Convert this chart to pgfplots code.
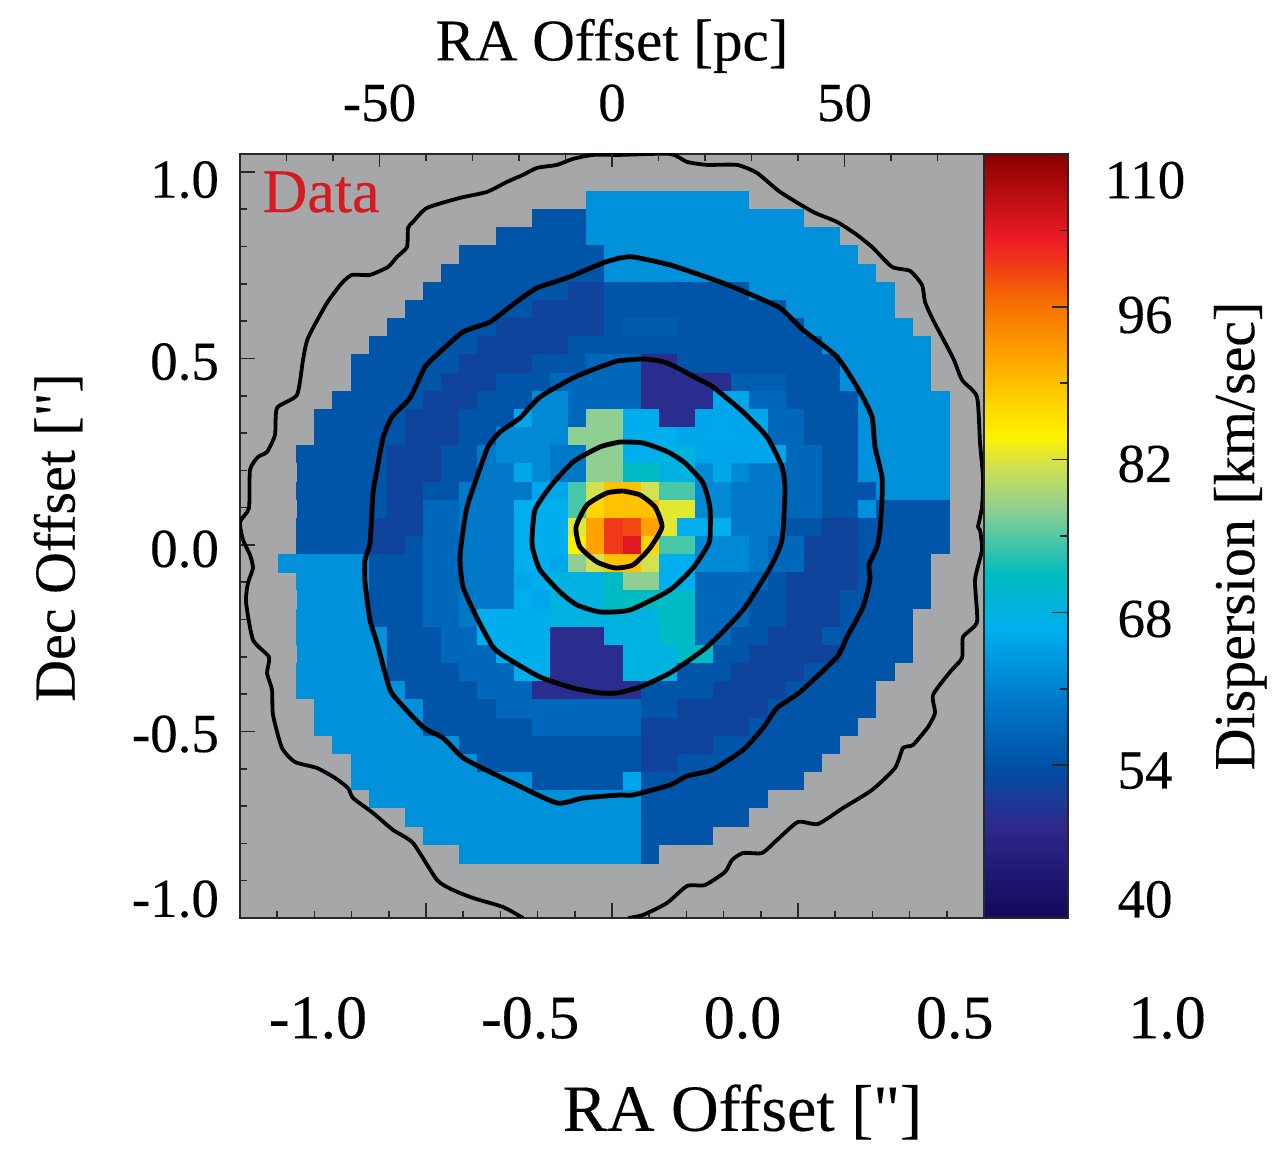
\documentclass[border=0pt]{standalone}
\usepackage{pgfplots}
\usepackage{fontspec}
\setmainfont{Liberation Serif}[FakeBold=0.25]
\newfontfamily\qfont{Liberation Serif}[FakeBold=0.25]
\pgfplotsset{compat=1.18}
\definecolor{mapgray}{RGB}{166,167,169}
\definecolor{datared}{RGB}{214,26,31}
\definecolor{framec}{RGB}{40,40,40}
\pgfplotsset{
 colormap={disp}{rgb255(400pt)=(18,8,92); rgb255(486pt)=(46,42,140); rgb255(538pt)=(0,80,165); rgb255(600pt)=(0,120,200); rgb255(664pt)=(0,174,239); rgb255(715pt)=(0,188,190); rgb255(776pt)=(145,208,145); rgb255(814pt)=(208,224,80); rgb255(842pt)=(255,242,0); rgb255(884pt)=(255,200,0); rgb255(917pt)=(255,160,0); rgb255(963pt)=(245,112,0); rgb255(1020pt)=(238,28,37); rgb255(1100pt)=(139,0,0)},
 colormap={dispgray}{rgb255(400pt)=(18,8,92); rgb255(486pt)=(46,42,140); rgb255(538pt)=(0,80,165); rgb255(600pt)=(0,120,200); rgb255(664pt)=(0,174,239); rgb255(715pt)=(0,188,190); rgb255(776pt)=(145,208,145); rgb255(814pt)=(208,224,80); rgb255(842pt)=(255,242,0); rgb255(884pt)=(255,200,0); rgb255(917pt)=(255,160,0); rgb255(963pt)=(245,112,0); rgb255(1020pt)=(238,28,37); rgb255(1100pt)=(139,0,0); rgb255(1105pt)=(166,167,169); rgb255(1200pt)=(166,167,169)},
 ghost/.style={scale only axis, anchor=south west, axis line style={draw=none}, tick style={draw=none}, major tick length=0pt, clip=false},
 cont/.style={black, line width=2.4pt, line join=round, no markers, forget plot, smooth, tension=0.35},
 table/contxy/.style={row sep=\\, header=false, x expr={(\thisrowno{0}-612)/372}, y expr={(545-\thisrowno{1})/373}},
}
\begin{document}
\begin{tikzpicture}
\path[use as bounding box] (0,0) rectangle (641.5pt,575pt);
% main map
\begin{axis}[scale only axis, at={(120pt,116pt)}, anchor=south west, width=372pt, height=382pt,
 xmin=-1, xmax=1, ymin=-1, ymax=1.048,
 axis background/.style={fill=mapgray},
 axis line style={framec, line width=1pt},
 xtick={-1,-0.5,0,0.5,1}, ytick={-1,-0.5,0,0.5,1}, minor tick num=4,
 xticklabel=\empty, yticklabel=\empty,
 xtick pos=lower, ytick pos=left,
 tick align=inside, major tick length=7.5pt, minor tick length=3.5pt,
 tick style={framec, line width=0.8pt},
 colormap name=dispgray, point meta min=40, point meta max=120]
\addplot[scatter, only marks, scatter src=explicit, mark=square*, mark size=4.45pt, mark options={solid, line width=0.2pt}, scatter/use mapped color={draw=mapped color, fill=mapped color}, forget plot]
 table[row sep=\\, header=false, x expr={-0.8735+0.04875*mod(\coordindex,37)}, y expr={0.9247-0.04869*floor(\coordindex/37)}, meta index=0]{
120\\120\\120\\120\\120\\120\\120\\120\\120\\120\\120\\120\\120\\120\\120\\120\\120\\63\\63\\63\\63\\63\\63\\63\\63\\63\\120\\120\\120\\120\\120\\120\\120\\120\\120\\120\\120\\
120\\120\\120\\120\\120\\120\\120\\120\\120\\120\\120\\120\\120\\120\\54.5\\54.5\\54.5\\63\\63\\63\\63\\63\\63\\63\\63\\63\\63\\63\\63\\120\\120\\120\\120\\120\\120\\120\\120\\
120\\120\\120\\120\\120\\120\\120\\120\\120\\120\\120\\120\\54.5\\54.5\\54.5\\54.5\\54.5\\63\\63\\63\\63\\63\\63\\63\\63\\63\\63\\63\\63\\63\\63\\120\\120\\120\\120\\120\\120\\
120\\120\\120\\120\\120\\120\\120\\120\\120\\120\\54.5\\54.5\\54.5\\54.5\\54.5\\54.5\\54.5\\54.5\\63\\63\\63\\63\\63\\63\\63\\63\\63\\63\\63\\63\\63\\63\\120\\120\\120\\120\\120\\
120\\120\\120\\120\\120\\120\\120\\120\\120\\54.5\\54.5\\54.5\\54.5\\54.5\\54.5\\54.5\\54.5\\54.5\\63\\63\\63\\63\\63\\63\\63\\63\\63\\63\\63\\63\\63\\63\\63\\120\\120\\120\\120\\
120\\120\\120\\120\\120\\120\\120\\120\\54.5\\54.5\\54.5\\54.5\\54.5\\54.5\\54.5\\54.5\\52\\52\\54.5\\54.5\\54.5\\54.5\\54.5\\54.5\\54.5\\54.5\\63\\63\\63\\63\\63\\63\\63\\63\\120\\120\\120\\
120\\120\\120\\120\\120\\120\\120\\54.5\\54.5\\54.5\\54.5\\54.5\\54.5\\54.5\\52\\52\\52\\52\\54.5\\54.5\\54.5\\54.5\\54.5\\54.5\\54.5\\54.5\\54.5\\54.5\\63\\63\\63\\63\\63\\63\\120\\120\\120\\
120\\120\\120\\120\\120\\120\\54.5\\54.5\\54.5\\54.5\\54.5\\54.5\\52\\52\\52\\52\\52\\52\\54.5\\55.5\\55.5\\55.5\\54.5\\54.5\\54.5\\54.5\\54.5\\54.5\\54.5\\63\\63\\63\\63\\63\\63\\120\\120\\
120\\120\\120\\120\\120\\54.5\\54.5\\54.5\\54.5\\54.5\\54.5\\52\\52\\52\\52\\52\\54.5\\54.5\\54.5\\54.5\\54.5\\54.5\\54.5\\54.5\\54.5\\54.5\\54.5\\54.5\\54.5\\54.5\\63\\63\\63\\63\\63\\63\\120\\
120\\120\\120\\120\\54.5\\54.5\\54.5\\54.5\\54.5\\54.5\\52\\52\\52\\52\\54.5\\54.5\\54.5\\57.5\\57.5\\57.5\\49\\49\\54.5\\54.5\\54.5\\54.5\\54.5\\54.5\\54.5\\54.5\\54.5\\63\\63\\63\\63\\63\\120\\
120\\120\\120\\120\\54.5\\54.5\\54.5\\54.5\\54.5\\52\\52\\52\\54.5\\54.5\\54.5\\57.5\\57.5\\57.5\\57.5\\57.5\\49\\49\\49\\49\\49\\56\\56\\56\\54.5\\54.5\\54.5\\63\\63\\63\\63\\63\\120\\
120\\120\\120\\54.5\\54.5\\54.5\\54.5\\54.5\\52\\52\\52\\54.5\\54.5\\54.5\\62\\62\\57.5\\57.5\\57.5\\57.5\\49\\49\\49\\49\\65.5\\65.5\\57.5\\57.5\\54.5\\54.5\\54.5\\54.5\\63\\63\\63\\63\\63\\
120\\120\\54.5\\54.5\\54.5\\54.5\\54.5\\52\\52\\52\\54.5\\54.5\\54.5\\65.5\\62\\62\\57.5\\77.5\\77.5\\66.5\\66.5\\49\\49\\65.5\\65.5\\65.5\\65.5\\57.5\\57.5\\54.5\\54.5\\54.5\\63\\63\\63\\63\\63\\
120\\120\\54.5\\54.5\\54.5\\54.5\\54.5\\52\\52\\52\\54.5\\54.5\\62\\62\\62\\62\\77.5\\77.5\\77.5\\66.5\\66.5\\66.5\\65.5\\65.5\\65.5\\65.5\\65.5\\57.5\\57.5\\54.5\\54.5\\54.5\\63\\63\\63\\63\\63\\
120\\54.5\\54.5\\54.5\\54.5\\54.5\\52\\52\\52\\54.5\\54.5\\60\\62\\62\\62\\60\\60\\77.5\\77.5\\66.5\\66.5\\68\\68\\65.5\\65.5\\65.5\\65.5\\65.5\\57.5\\57.5\\54.5\\54.5\\63\\63\\63\\63\\63\\
120\\54.5\\54.5\\54.5\\54.5\\54.5\\52\\52\\52\\54.5\\54.5\\60\\60\\65.5\\62\\60\\60\\77.5\\77.5\\71\\71\\68\\68\\62\\65.5\\62\\60\\60\\57.5\\57.5\\54.5\\54.5\\63\\63\\63\\63\\63\\
120\\54.5\\54.5\\54.5\\54.5\\54.5\\52\\52\\54.5\\54.5\\60\\60\\60\\60\\65.5\\65.5\\74.5\\81.5\\89\\89\\81.5\\74.5\\74.5\\62\\62\\60\\60\\60\\57.5\\57.5\\54.5\\54.5\\54.5\\63\\63\\63\\63\\
120\\54.5\\54.5\\54.5\\54.5\\54.5\\52\\52\\57.5\\57.5\\60\\60\\60\\66.5\\66.5\\66.5\\74.5\\87\\89\\89\\89\\82.5\\82.5\\62\\62\\60\\60\\60\\57.5\\57.5\\54.5\\54.5\\63\\54.5\\54.5\\54.5\\54.5\\
120\\54.5\\54.5\\54.5\\54.5\\52\\52\\52\\57.5\\57.5\\60\\60\\60\\66.5\\66.5\\66.5\\82.5\\91.5\\100\\99\\91.5\\82.5\\66.5\\66.5\\66.5\\60\\60\\60\\54.5\\54.5\\52\\52\\54.5\\54.5\\54.5\\54.5\\54.5\\
120\\54.5\\54.5\\54.5\\54.5\\52\\52\\54.5\\57.5\\57.5\\60\\60\\60\\66.5\\66.5\\66.5\\84.5\\91.5\\100\\103\\87\\74.5\\74.5\\62\\62\\62\\60\\57.5\\57.5\\52\\52\\52\\54.5\\54.5\\54.5\\54.5\\54.5\\
63\\63\\63\\63\\63\\54.5\\54.5\\54.5\\57.5\\57.5\\60\\60\\60\\66.5\\66.5\\65.5\\77.5\\81.5\\89\\89\\81.5\\66.5\\66.5\\62\\62\\62\\60\\57.5\\57.5\\52\\52\\52\\54.5\\54.5\\54.5\\54.5\\120\\
63\\63\\63\\63\\63\\54.5\\54.5\\54.5\\57.5\\57.5\\60\\60\\60\\65.5\\66.5\\68\\68\\68\\71\\77.5\\77.5\\66.5\\66.5\\57.5\\57.5\\57.5\\57.5\\54.5\\52\\52\\52\\52\\54.5\\54.5\\54.5\\54.5\\120\\
63\\63\\63\\63\\63\\54.5\\54.5\\54.5\\57.5\\57.5\\60\\60\\60\\66.5\\65.5\\68\\68\\68\\71\\71\\71\\71\\71\\57.5\\57.5\\57.5\\54.5\\54.5\\52\\52\\52\\54.5\\54.5\\54.5\\54.5\\54.5\\120\\
120\\63\\63\\63\\63\\54.5\\54.5\\54.5\\57.5\\57.5\\60\\66.5\\66.5\\66.5\\66.5\\68\\68\\68\\68\\68\\68\\71\\71\\57.5\\57.5\\57.5\\54.5\\54.5\\52\\52\\52\\54.5\\54.5\\54.5\\54.5\\120\\120\\
120\\63\\63\\63\\63\\63\\54.5\\54.5\\54.5\\57.5\\57.5\\66.5\\66.5\\66.5\\66.5\\49\\49\\49\\68\\68\\68\\71\\71\\57.5\\57.5\\54.5\\54.5\\52\\52\\52\\55.5\\54.5\\54.5\\54.5\\54.5\\120\\120\\
120\\63\\63\\63\\63\\63\\54.5\\54.5\\54.5\\57.5\\57.5\\57.5\\66.5\\66.5\\66.5\\49\\49\\49\\49\\68\\68\\68\\71\\71\\54.5\\54.5\\52\\52\\52\\52\\52\\54.5\\54.5\\54.5\\54.5\\120\\120\\
120\\63\\63\\63\\63\\63\\54.5\\54.5\\54.5\\54.5\\57.5\\57.5\\57.5\\66.5\\66.5\\49\\49\\49\\49\\68\\68\\68\\54.5\\54.5\\54.5\\52\\52\\52\\52\\54.5\\54.5\\54.5\\54.5\\54.5\\120\\120\\120\\
120\\63\\63\\63\\63\\63\\63\\54.5\\54.5\\54.5\\54.5\\57.5\\57.5\\57.5\\49\\49\\49\\49\\49\\49\\54.5\\54.5\\54.5\\54.5\\52\\52\\52\\52\\54.5\\54.5\\54.5\\54.5\\54.5\\120\\120\\120\\120\\
120\\120\\63\\63\\63\\63\\63\\63\\54.5\\54.5\\54.5\\54.5\\57.5\\57.5\\57.5\\57.5\\57.5\\57.5\\57.5\\57.5\\54.5\\54.5\\52\\52\\52\\52\\52\\54.5\\54.5\\54.5\\54.5\\54.5\\54.5\\120\\120\\120\\120\\
120\\120\\63\\63\\63\\63\\63\\63\\54.5\\54.5\\54.5\\54.5\\54.5\\54.5\\57.5\\57.5\\57.5\\57.5\\57.5\\57.5\\52\\52\\52\\52\\52\\52\\54.5\\54.5\\54.5\\54.5\\54.5\\54.5\\120\\120\\120\\120\\120\\
120\\120\\120\\63\\63\\63\\63\\63\\63\\63\\54.5\\54.5\\54.5\\54.5\\54.5\\54.5\\54.5\\54.5\\54.5\\54.5\\52\\52\\52\\52\\54.5\\54.5\\54.5\\54.5\\54.5\\54.5\\54.5\\120\\120\\120\\120\\120\\120\\
120\\120\\120\\120\\63\\63\\63\\63\\63\\63\\63\\54.5\\54.5\\54.5\\54.5\\54.5\\54.5\\54.5\\54.5\\54.5\\52\\52\\54.5\\54.5\\54.5\\54.5\\54.5\\54.5\\54.5\\54.5\\120\\120\\120\\120\\120\\120\\120\\
120\\120\\120\\120\\63\\63\\63\\63\\63\\63\\63\\63\\63\\63\\54.5\\54.5\\54.5\\54.5\\54.5\\65.5\\54.5\\54.5\\54.5\\54.5\\54.5\\54.5\\54.5\\54.5\\54.5\\120\\120\\120\\120\\120\\120\\120\\120\\
120\\120\\120\\120\\120\\63\\63\\63\\63\\63\\63\\63\\63\\63\\63\\63\\63\\63\\63\\63\\54.5\\54.5\\54.5\\54.5\\54.5\\54.5\\54.5\\120\\120\\120\\120\\120\\120\\120\\120\\120\\120\\
120\\120\\120\\120\\120\\120\\120\\63\\63\\63\\63\\63\\63\\63\\63\\63\\63\\63\\63\\63\\54.5\\54.5\\54.5\\54.5\\54.5\\54.5\\120\\120\\120\\120\\120\\120\\120\\120\\120\\120\\120\\
120\\120\\120\\120\\120\\120\\120\\120\\63\\63\\63\\63\\63\\63\\63\\63\\63\\63\\63\\63\\54.5\\54.5\\54.5\\54.5\\120\\120\\120\\120\\120\\120\\120\\120\\120\\120\\120\\120\\120\\
120\\120\\120\\120\\120\\120\\120\\120\\120\\120\\63\\63\\63\\63\\63\\63\\63\\63\\63\\63\\54.5\\120\\120\\120\\120\\120\\120\\120\\120\\120\\120\\120\\120\\120\\120\\120\\120\\
};
\end{axis}
% contours in image pixels, drawn over the map
\begin{axis}[scale only axis, at={(120pt,116pt)}, anchor=south west, width=372pt, height=382pt,
 xmin=-1, xmax=1, ymin=-1, ymax=1.048, xtick=\empty, ytick=\empty, axis line style={draw=none}]
\addplot[cont, line width=1.9pt] table[contxy]{628 918\\643 915\\667 903\\687 886\\705 885\\725 872\\732 860\\743 853\\762 853\\777 840\\798 822\\818 824\\843 808\\872 790\\895 768\\903 748\\913 745\\928 727\\935 713\\933 695\\950 672\\962 658\\963 637\\977 622\\975 580\\982 550\\980 530\\978 527\\982 507\\983 477\\980 443\\977 397\\962 380\\953 358\\933 320\\925 302\\922 285\\910 271\\892 267\\873 248\\857 235\\837 222\\813 212\\780 192\\757 173\\737 165\\707 165\\687 162\\670 154\\620 155\\593 155\\573 159\\557 165\\537 168\\523 175\\507 182\\487 192\\460 198\\427 208\\413 222\\408 228\\407 247\\397 257\\388 267\\370 275\\352 275\\342 283\\327 303\\308 338\\303 360\\297 395\\277 408\\275 435\\267 452\\258 457\\250 470\\249 508\\240 522\\243 540\\250 555\\253 568\\248 583\\246 602\\253 640\\269 657\\267 673\\272 690\\273 715\\282 748\\295 762\\317 768\\335 778\\348 788\\353 798\\373 813\\393 830\\413 843\\437 880\\453 890\\473 898\\503 907\\523 918\\};
\addplot[cont] table[contxy]{620 258\\603 263\\567 278\\537 288\\515 303\\490 322\\463 332\\440 352\\425 367\\410 398\\392 417\\383 438\\377 470\\373 493\\370 543\\365 560\\365 582\\370 620\\377 643\\387 680\\393 695\\423 727\\443 738\\462 757\\480 767\\513 783\\557 803\\583 798\\620 795\\633 795\\670 785\\687 776\\712 770\\743 750\\763 728\\777 708\\800 692\\837 657\\847 637\\863 607\\870 580\\869 565\\877 547\\880 530\\882 500\\882 477\\875 447\\872 417\\860 392\\837 357\\803 330\\780 308\\747 293\\720 282\\670 265\\633 257\\620 258\\};
\addplot[cont] table[contxy]{617 361\\600 367\\573 378\\540 397\\520 418\\500 432\\488 447\\477 477\\467 507\\462 538\\460 560\\463 587\\477 618\\493 647\\507 658\\540 677\\573 688\\600 693\\617 693\\640 687\\670 673\\707 647\\743 610\\770 568\\782 540\\785 490\\782 467\\767 437\\743 412\\713 387\\700 380\\667 363\\643 359\\617 361\\};
\addplot[cont] table[contxy]{620 442\\600 447\\573 462\\550 487\\535 510\\532 538\\533 550\\540 570\\560 592\\577 605\\600 612\\630 610\\670 590\\693 568\\707 547\\710 538\\710 508\\703 483\\685 463\\668 452\\643 443\\620 442\\};
\addplot[cont] table[contxy]{623 491\\607 493\\587 505\\576 527\\580 547\\597 562\\615 568\\633 565\\650 548\\662 527\\655 507\\640 495\\623 491\\};
\node[text=datared, font=\fontsize{31}{33}\selectfont, anchor=center] at (axis cs:-0.782,0.946) {Data};
\end{axis}
% top axis in pc
\begin{axis}[scale only axis, at={(120pt,116pt)}, anchor=south west, width=372pt, height=382pt,
 xmin=-80, xmax=80, ymin=0, ymax=1, ytick=\empty,
 axis line style={draw=none},
 xtick pos=upper, xticklabel pos=upper,
 xtick={-50,0,50}, xticklabels={-50,0,50},
 minor xtick={-70,-60,-40,-30,-20,-10,10,20,30,40,60,70},
 tick align=inside, major tick length=6.5pt, minor tick length=3.5pt,
 tick style={framec, line width=0.8pt},
 xticklabel style={font=\fontsize{27.5}{30}\selectfont, anchor=center, yshift=25.5pt},
 xlabel={RA Offset [pc]},
 xlabel style={font=\fontsize{29.5}{32}\selectfont, at={(axis description cs:0.5,1.1415)}, anchor=center}]
\end{axis}
% bottom tick labels, set as in the original, wider than the frame
\begin{axis}[ghost, at={(159pt,116pt)}, width=424.5pt, height=382pt,
 xmin=-1, xmax=1, ymin=0, ymax=1, ytick=\empty,
 xtick pos=lower, xticklabel pos=lower,
 xtick={-1,-0.5,0,0.5,1}, xticklabels={-1.0,-0.5,0.0,0.5,1.0},
 xticklabel style={font=\fontsize{31}{33}\selectfont, anchor=center, yshift=-50pt},
 xlabel={RA Offset [{\qfont"}]},
 xlabel style={font=\fontsize{33}{35}\selectfont, at={(axis description cs:0.5,-0.2539)}, anchor=center}]
\end{axis}
% left tick labels
\begin{axis}[ghost, at={(120pt,116pt)}, width=372pt, height=382pt,
 xmin=-1, xmax=1, ymin=-1, ymax=1.048, xtick=\empty,
 ytick pos=left, yticklabel pos=left,
 ytick={-0.949,-0.507,-0.011,0.491,0.979}, yticklabels={-1.0,-0.5,0.0,0.5,1.0},
 yticklabel style={font=\fontsize{27.5}{30}\selectfont, anchor=east, xshift=-7pt},
 ylabel={Dec Offset [{\qfont"}]},
 ylabel style={font=\fontsize{29}{32}\selectfont, at={(axis description cs:-0.2446,0.498)}, anchor=center}]
\end{axis}
% colour bar
\begin{axis}[scale only axis, at={(492pt,116pt)}, anchor=south west, width=42pt, height=382pt,
 xmin=0, xmax=1, ymin=40, ymax=110, xtick=\empty,
 ytick={54,68,82,96}, minor ytick={47,61,75,89,103}, yticklabel=\empty,
 ytick pos=right, tick align=inside, major tick length=8pt, minor tick length=4pt,
 tick style={framec, line width=0.8pt},
 axis line style={framec, line width=1pt}, axis on top,
 colormap name=disp, point meta min=40, point meta max=110]
\addplot[surf, shader=interp, mesh/cols=2, point meta=y] table[row sep=\\]{
x y\\
0 40\\1 40\\0 48.6\\1 48.6\\0 53.8\\1 53.8\\0 60\\1 60\\0 66.4\\1 66.4\\0 71.5\\1 71.5\\0 77.6\\1 77.6\\0 81.4\\1 81.4\\0 84.2\\1 84.2\\0 88.4\\1 88.4\\0 91.7\\1 91.7\\0 96.3\\1 96.3\\0 102\\1 102\\0 110\\1 110\\
};
\end{axis}
% colour bar labels
\begin{axis}[ghost, at={(492pt,116pt)}, width=42pt, height=382pt,
 xmin=0, xmax=1, ymin=40, ymax=110, xtick=\empty,
 ytick pos=right, yticklabel pos=right,
 ytick={41.7,53.5,67.4,81.6,95.25,107.6}, yticklabels={40,54,68,82,96,110},
 yticklabel style={font=\fontsize{27.5}{30}\selectfont, anchor=center, xshift=38.5pt},
 ylabel={Dispersion [km/sec]},
 ylabel style={font=\fontsize{29}{32}\selectfont, at={(axis description cs:3.05,0.5)}, anchor=center}]
\end{axis}
\end{tikzpicture}
\end{document}
